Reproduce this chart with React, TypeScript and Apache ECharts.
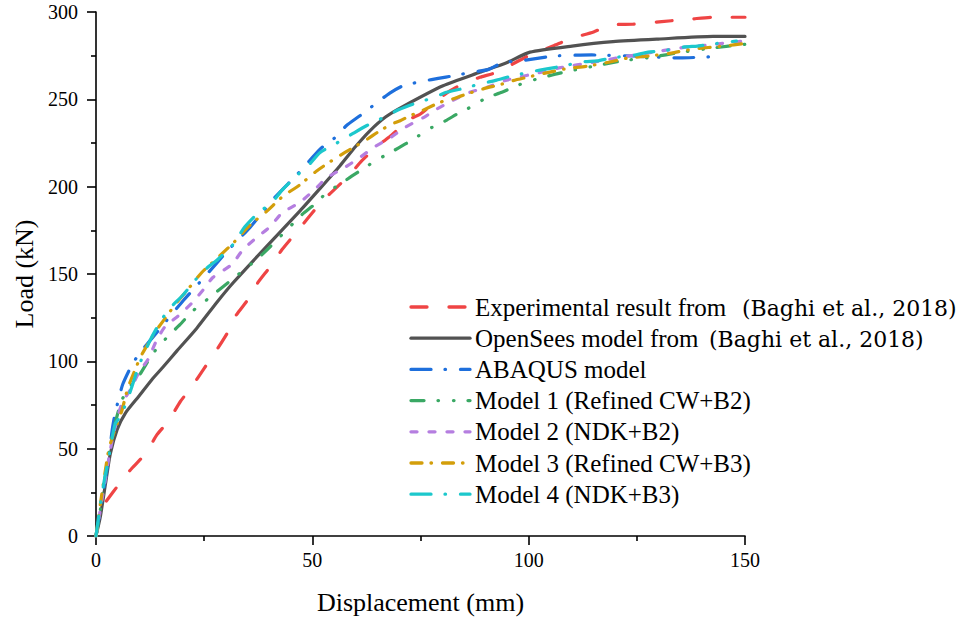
import React, { useEffect, useRef } from "react";
import * as echarts from "echarts";

const CITE = "(Baghi et al., 2018)";
const legendMain = [
  "Experimental result from",
  "OpenSees model from",
  "ABAQUS model",
  "Model 1 (Refined CW+B2)",
  "Model 2 (NDK+B2)",
  "Model 3 (Refined CW+B3)",
  "Model 4 (NDK+B3)",
];
const legendCite = [CITE, CITE, "", "", "", "", ""];
const seriesNames = legendMain.map((m, i) => (legendCite[i] ? m + " " + legendCite[i] : m));

const experimental = [
  [2.4, 20], [5.2, 29.3], [8.3, 38.8], [11.4, 47], [14.1, 58], [16.8, 66], [19.5, 77],
  [22.2, 85.7], [25, 96], [27.5, 105], [30.3, 116], [32, 125], [35, 135], [37.4, 145],
  [40.2, 154], [43, 164], [46, 173], [49, 182], [52.3, 192], [54.1, 196], [58.7, 207],
  [61.4, 214.8], [65.6, 224.3], [68.3, 229.5], [72.6, 238.7], [74.9, 241.5], [80.7, 253],
  [84.1, 258], [88.7, 262.6], [92.6, 265.5], [100, 275], [105.6, 280.5], [110, 285],
  [115, 288.6], [119, 292.6], [124, 293], [128.5, 294], [133, 295], [137.7, 296],
  [142.6, 297], [150, 297],
];
const opensees = [
  [0, 0], [1, 11], [2.2, 30], [3.3, 47], [4.9, 61], [6.8, 70.4], [9.9, 80], [12.9, 89.5],
  [15.6, 97], [18.7, 106], [23.3, 119], [28, 134], [31.7, 145], [39.5, 166], [47.1, 186],
  [51.8, 199], [56.4, 212], [60, 223], [63.3, 232], [67, 240], [71, 246], [80.2, 257.8],
  [88.7, 265.5], [94.9, 271], [100.3, 277], [110, 280.5], [119.5, 283], [130, 284.5],
  [142.6, 286], [150, 286],
];
const abaqus = [
  [0, 0], [1, 15], [2, 30], [3, 45], [3.7, 60], [4.4, 70], [5.2, 78], [6.2, 87], [8.3, 98],
  [10.2, 105], [13.2, 114], [15.2, 120], [19.9, 134], [25.2, 148.6], [30.3, 163],
  [35.6, 176.7], [41.4, 194], [46.5, 207], [51.8, 221.5], [55.2, 228], [57.9, 235],
  [61, 240.6], [64.9, 248], [67.9, 253.6], [71, 257.8], [76, 260.6], [79.1, 262],
  [82.6, 263.5], [87.6, 265.8], [90.6, 267], [94, 271], [98, 272], [106, 274.8],
  [114.6, 275.4], [124, 274.8], [135, 273.7], [143, 274.5],
];
const model1 = [
  [0, 0], [1, 15], [2, 32], [3, 48], [4, 60], [5, 70], [6, 78], [8, 86], [10, 92], [13, 104],
  [15, 110], [17.3, 116], [19.4, 121], [22.2, 128.5], [25, 134], [28, 140], [31, 146],
  [34, 152], [37, 158], [40, 165], [44.8, 177], [47.6, 184], [50.6, 190], [53.3, 196.5],
  [56.4, 201.4], [59.1, 206], [62.2, 211], [65.2, 215.7], [68.3, 219.9], [71.4, 224.3],
  [74.5, 229], [77.6, 233.9], [81, 238], [83.7, 242], [87.2, 246.3], [90.3, 251], [93.8, 254],
  [96.8, 257.4], [100.3, 260.5], [107.2, 265], [114, 268.5], [121.6, 272], [128, 274],
  [135.4, 277], [142.6, 279.4], [150, 281.5],
];
const model2 = [
  [0, 0], [1, 15], [2, 30], [3, 45], [4, 58], [5, 68], [6, 76], [8, 84], [10, 94], [12, 101],
  [14, 112], [16, 120], [19, 126], [22, 133], [24.8, 141], [27, 148], [31.4, 155.5], [34, 164],
  [37.2, 171], [40.2, 177], [43, 185], [47.1, 191], [50.6, 198.5], [53.3, 205], [57.5, 211],
  [61, 216.7], [64.1, 222.4], [68, 228], [71.4, 233.9], [76, 240], [78.7, 244.4],
  [82.2, 249], [86.4, 254], [90.3, 256.8], [94.9, 261], [103, 265.6], [107, 268],
  [115.3, 271.4], [120.4, 273.7], [128.7, 277], [136.6, 280], [141.2, 281], [150, 283.5],
];
const model3 = [
  [0, 0], [1, 18], [2, 35], [3, 50], [4, 58], [5, 65], [6, 72], [7.4, 85], [10.2, 102],
  [11.3, 107], [13.6, 116.5], [15.5, 123], [18.3, 132.5], [21.5, 142], [24.5, 151],
  [28.2, 159.5], [32.1, 168.7], [35.6, 178], [39.5, 186], [43.2, 194.5], [47.1, 201],
  [51, 209], [55.6, 216.7], [59.5, 222.4], [62.6, 227], [65.6, 232], [68.3, 235.8],
  [70.3, 237.7], [72.6, 240.6], [75.3, 243.4], [79.5, 248.3], [82.2, 250], [84.1, 251.7],
  [86.4, 253.6], [89.5, 256], [93.8, 258.7], [96.4, 260.7], [100.8, 263.3], [103.8, 265],
  [108.4, 267.4], [113.5, 269], [118.8, 271.4], [123, 273.7], [128, 274.8], [133, 276.5],
  [138, 278.8], [145, 280.5], [150, 282],
];
const model4 = [
  [0, 0], [1, 18], [2, 33], [2.8, 43], [4.4, 64], [5.8, 69], [8.1, 84], [9.9, 97.5],
  [12.7, 113], [15.2, 124], [17.3, 131], [20, 137.7], [23.1, 147], [25.9, 154], [28, 158],
  [31.7, 167], [34.4, 177], [37.9, 186], [40.4, 190], [43, 198], [46.7, 207], [49.4, 213],
  [51.8, 219.6], [56.4, 226], [59.5, 230.6], [62.6, 235], [66.8, 240], [69.9, 244],
  [73.3, 247.3], [78, 251], [81, 254], [84.5, 256], [89.1, 259], [92.6, 261], [96, 263.3],
  [101, 266], [104.2, 267.4], [107.7, 269], [112.5, 271.4], [115.8, 272], [119.2, 273.7],
  [124.6, 275.4], [127.6, 277], [131, 277.7], [136, 280], [139, 280.5], [142.6, 281.7],
  [148, 283.4],
];

const seriesData = [experimental, opensees, abaqus, model1, model2, model3, model4];
const colors = ["#ef4444", "#525252", "#1e6fdc", "#3aa864", "#b57ee0", "#d39e0a", "#1cc8cc"];
const dashes: (number[] | null)[] = [
  [16, 22],
  null,
  [20, 14, 0.5, 15],
  [13, 14, 0.5, 15, 0.5, 14],
  [6, 12],
  [11, 9, 0.5, 11],
  [20, 14, 0.5, 15],
];

const SERIF = "Liberation Serif";
const CITE_FONT = "DejaVu Serif";

function buildLegend(): any[] {
  const left = 411;
  const lineW = 59;
  const top = 307;
  const step = 31.2;
  const citeX = [742, 709];
  const els: any[] = [];
  legendMain.forEach((label, i) => {
    const y = top + i * step;
    els.push({
      type: "line",
      silent: true,
      shape: { x1: left, y1: y, x2: left + lineW, y2: y },
      style: {
        stroke: colors[i],
        lineWidth: 3.3,
        lineDash: dashes[i] || undefined,
        lineCap: "round",
      },
    });
    els.push({
      type: "text",
      silent: true,
      x: left + lineW + 5,
      y,
      style: {
        text: label,
        fontFamily: SERIF,
        fontSize: 25,
        fill: "#000",
        verticalAlign: "middle",
        align: "left",
      },
    });
    if (legendCite[i]) {
      els.push({
        type: "text",
        silent: true,
        x: citeX[i],
        y: y + 1,
        style: {
          text: legendCite[i],
          fontFamily: CITE_FONT,
          fontSize: 22,
          fill: "#000",
          verticalAlign: "middle",
          align: "left",
        },
      });
    }
  });
  return els;
}

export default function App() {
  const ref = useRef<HTMLDivElement>(null);
  useEffect(() => {
    if (!ref.current) return;
    const chart = echarts.init(ref.current, undefined, { renderer: "svg" });
    const axisCommon = {
      type: "value" as const,
      nameLocation: "middle" as const,
      nameTextStyle: { fontFamily: SERIF, fontSize: 26, color: "#000" },
      axisLine: { show: true, lineStyle: { color: "#000", width: 1.6 } },
      axisTick: { show: true, inside: false, length: 9, lineStyle: { color: "#000", width: 1.6 } },
      minorTick: { show: true, splitNumber: 2, length: 5, lineStyle: { color: "#000", width: 1.6 } },
      splitLine: { show: false },
      minorSplitLine: { show: false },
    };
    chart.setOption({
      animation: false,
      backgroundColor: "#fff",
      textStyle: { fontFamily: SERIF, color: "#000" },
      grid: { left: 96, top: 12, width: 649, height: 524 },
      xAxis: {
        ...axisCommon,
        min: 0,
        max: 150,
        interval: 50,
        name: "Displacement (mm)",
        nameGap: 53,
        axisLabel: { fontFamily: SERIF, fontSize: 20, color: "#000", margin: 14 },
      },
      yAxis: {
        ...axisCommon,
        min: 0,
        max: 300,
        interval: 50,
        name: "Load (kN)",
        nameGap: 56,
        axisLabel: { fontFamily: SERIF, fontSize: 20, color: "#000", margin: 18 },
      },
      legend: { show: false },
      graphic: buildLegend(),
      series: seriesNames.map((name, i) => ({
        name,
        type: "line",
        data: seriesData[i],
        showSymbol: false,
        symbol: "none",
        smooth: 0.2,
        color: colors[i],
        lineStyle: {
          color: colors[i],
          width: 3.2,
          type: dashes[i] || "solid",
          cap: "round",
          join: "round",
        },
      })),
    });
    return () => chart.dispose();
  }, []);
  return (
    <div
      ref={ref}
      style={{ position: "fixed", left: 0, top: 0, width: 973, height: 622, background: "#fff" }}
    />
  );
}
